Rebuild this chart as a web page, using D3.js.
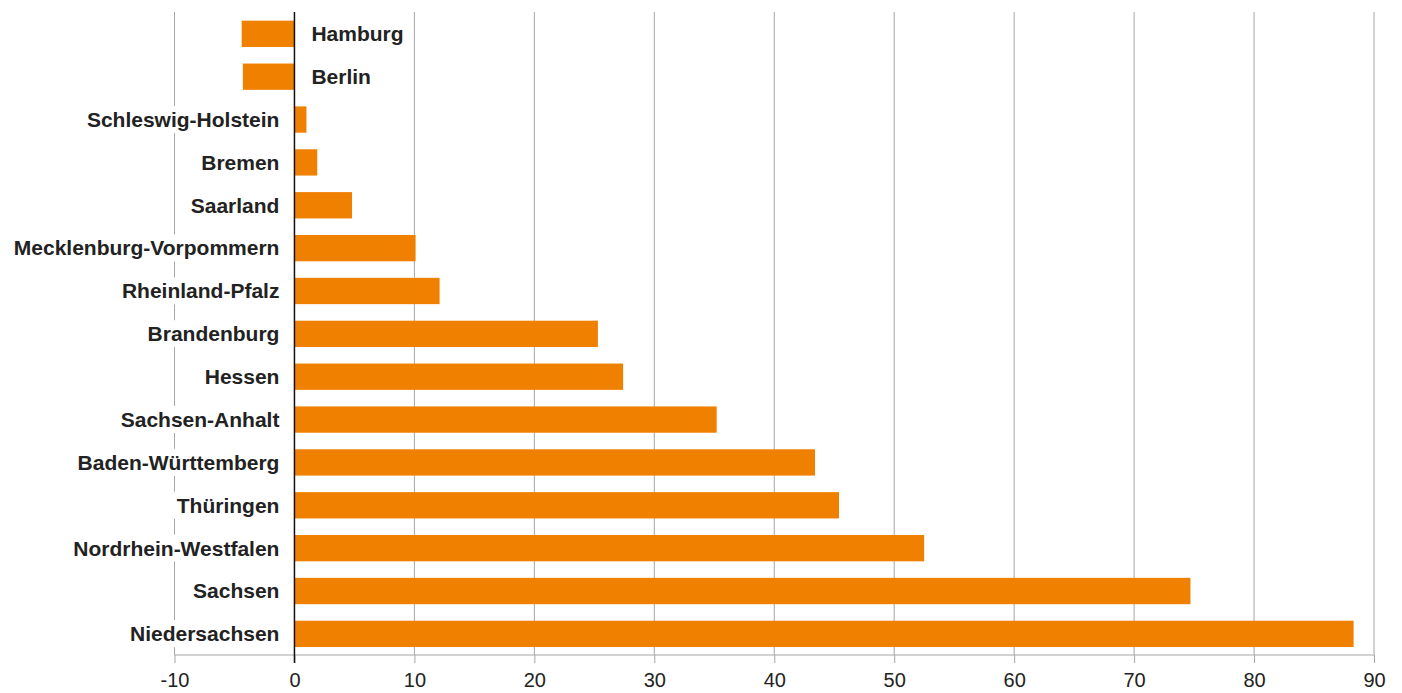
<!DOCTYPE html>
<html>
<head>
<meta charset="utf-8">
<script src="https://cdn.jsdelivr.net/npm/d3@7"></script>
<style>
  body { margin: 0; background: #fff; }
  text { font-family: "Liberation Sans", Arial, Helvetica, sans-serif; }
</style>
</head>
<body>
<div id="chart"></div>
<script>
// data
var states = ['Hamburg', 'Berlin', 'Schleswig-Holstein', 'Bremen', 'Saarland',
              'Mecklenburg-Vorpommern', 'Rheinland-Pfalz', 'Brandenburg', 'Hessen',
              'Sachsen-Anhalt', 'Baden-Württemberg', 'Thüringen', 'Nordrhein-Westfalen',
              'Sachsen', 'Niedersachsen'];
var values = [-4.4, -4.3, 1.0, 1.9, 4.8, 10.1, 12.1, 25.3, 27.4, 35.2, 43.4, 45.4, 52.5, 74.7, 88.3];
var xTicks = [-10, 0, 10, 20, 30, 40, 50, 60, 70, 80, 90];

var width = 1402, height = 693;

var svg = d3.select("#chart")
    .append("svg")
    .attr("width", width)
    .attr("height", height);

//scales
var xScale = d3.scaleLinear()
    .domain([-10, 90])
    .range([174.5, 1374]);

var yScale = d3.scaleBand()
    .domain(states)
    .range([12.4, 655.3])
    .paddingInner(0.386)
    .paddingOuter(0.193);

var axisY = 655;

//gridlines
svg.append("g")
    .selectAll("line")
    .data(xTicks.filter(function (d) { return d !== 0; }))
    .enter()
    .append("line")
    .attr("x1", function (d) { return xScale(d); })
    .attr("x2", function (d) { return xScale(d); })
    .attr("y1", 12)
    .attr("y2", axisY)
    .attr("stroke", "#a6a6a6")
    .attr("stroke-width", 1);

//x axis
var x_axis = d3.axisBottom(xScale)
    .tickValues(xTicks)
    .tickSize(8)
    .tickPadding(10)
    .tickFormat(function (d) { return String(d); });
var gx = svg.append("g")
    .attr("transform", "translate(0," + axisY + ")")
    .call(x_axis);
gx.select(".domain").attr("stroke", "#a6a6a6").attr("d", "M" + xScale(-10) + ",0H" + xScale(90));
gx.selectAll(".tick line").attr("stroke", "#a6a6a6");
gx.selectAll(".tick text")
    .attr("font-size", 20)
    .attr("font-family", "Liberation Sans, Arial, sans-serif")
    .attr("fill", "#222");

//label backgrounds and labels
var labels = svg.append("g")
    .selectAll("g")
    .data(states)
    .enter()
    .append("g");

labels.append("text")
    .attr("x", function (d, i) { return values[i] < 0 ? xScale(0) + 17 : xScale(0) - 15; })
    .attr("y", function (d) { return yScale(d) + yScale.bandwidth() / 2; })
    .attr("dy", "0.35em")
    .attr("text-anchor", function (d, i) { return values[i] < 0 ? "start" : "end"; })
    .attr("font-size", 21)
    .attr("font-weight", "bold")
    .attr("fill", "#222")
    .text(function (d) { return d; });

labels.each(function () {
    var g = d3.select(this);
    var bb = g.select("text").node().getBBox();
    g.insert("rect", "text")
        .attr("x", bb.x - 4)
        .attr("y", bb.y - 2)
        .attr("width", bb.width + 8)
        .attr("height", bb.height + 4)
        .attr("fill", "#fff");
});

//bars
svg.append("g")
    .selectAll("rect")
    .data(states)
    .enter()
    .append("rect")
    .attr("x", function (d, i) { return xScale(Math.min(0, values[i])); })
    .attr("y", function (d) { return yScale(d); })
    .attr("width", function (d, i) { return Math.abs(xScale(values[i]) - xScale(0)); })
    .attr("height", yScale.bandwidth())
    .attr("fill", "#f08000");

//zero line
svg.append("line")
    .attr("x1", xScale(0))
    .attr("x2", xScale(0))
    .attr("y1", 12)
    .attr("y2", axisY + 8)
    .attr("stroke", "#111")
    .attr("stroke-width", 1.5);
</script>
</body>
</html>
